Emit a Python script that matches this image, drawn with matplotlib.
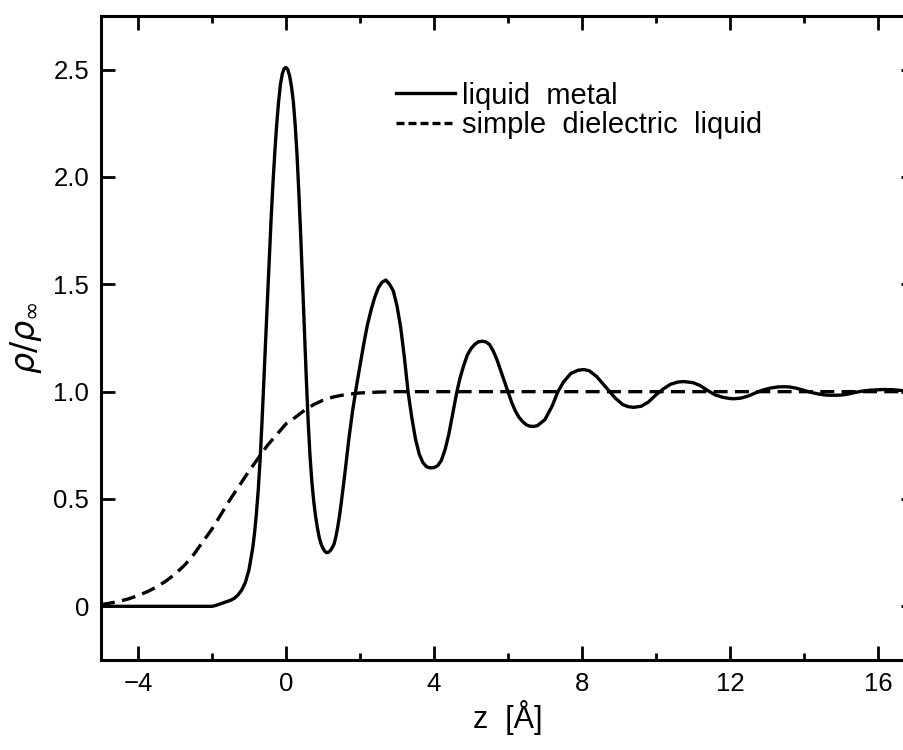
import matplotlib
matplotlib.use("Agg")
import matplotlib.pyplot as plt
from matplotlib.lines import Line2D
from matplotlib.ticker import MultipleLocator

plt.rcParams['font.family'] = ['Liberation Sans', 'DejaVu Sans']
plt.rcParams['mathtext.fontset'] = 'dejavusans'

# liquid metal density profile
z_metal = [-5.0, -2.0, -1.9, -1.8, -1.7, -1.6, -1.5, -1.4, -1.3, -1.2, -1.1, -1.0,
           -0.9, -0.85, -0.8, -0.75, -0.7, -0.65, -0.6, -0.55, -0.5, -0.45, -0.4, -0.35,
           -0.3, -0.25, -0.2, -0.15, -0.1, -0.05, 0.0,
           0.05, 0.1, 0.15, 0.2, 0.25, 0.3, 0.35, 0.4, 0.45, 0.5, 0.55, 0.6, 0.65,
           0.7, 0.75, 0.8, 0.85, 0.9, 0.95, 1.0, 1.05, 1.1, 1.15, 1.2, 1.25,
           1.3, 1.35, 1.4, 1.45, 1.5, 1.6, 1.7, 1.8, 1.9, 2.0, 2.1, 2.2, 2.3, 2.4, 2.5, 2.6, 2.7,
           2.8, 2.9, 3.0, 3.1, 3.2, 3.3, 3.4, 3.5, 3.6, 3.7, 3.8, 3.9, 4.0,
           4.1, 4.2, 4.3, 4.4, 4.5, 4.62, 4.7, 4.8, 4.9, 5.0, 5.1, 5.2, 5.3,
           5.4, 5.5, 5.6, 5.7, 5.8, 5.9, 6.0, 6.1, 6.2, 6.3, 6.4, 6.5, 6.6, 6.7,
           6.8, 7.0, 7.2, 7.35, 7.5, 7.7, 7.9, 8.05,
           8.2, 8.4, 8.6, 8.75, 8.9, 9.1, 9.25, 9.4,
           9.6, 9.8, 10.0, 10.2, 10.4, 10.6, 10.75,
           11.0, 11.2, 11.4, 11.6, 11.8, 12.0, 12.1,
           12.3, 12.5, 12.7, 12.9, 13.1, 13.3, 13.45,
           13.6, 13.8, 14.0, 14.2, 14.4, 14.6, 14.8,
           15.0, 15.2, 15.4, 15.6, 15.8, 16.0, 16.15,
           16.4, 16.6, 16.8, 17.0]
rho_metal = [0.0, 0.0, 0.004, 0.01, 0.016, 0.022, 0.028, 0.037, 0.052, 0.075, 0.11, 0.17,
             0.27, 0.34, 0.43, 0.54, 0.68, 0.85, 1.04, 1.235, 1.43, 1.625, 1.81, 1.975,
             2.12, 2.245, 2.35, 2.43, 2.48, 2.505, 2.51,
             2.50, 2.47, 2.42, 2.35, 2.24, 2.10, 1.92, 1.72, 1.50, 1.28, 1.06, 0.86, 0.70,
             0.58, 0.49, 0.42, 0.365, 0.32, 0.29, 0.27, 0.256, 0.25, 0.252, 0.26, 0.273,
             0.29, 0.325, 0.37, 0.425, 0.49, 0.63, 0.78, 0.91, 1.02, 1.12, 1.22, 1.31, 1.38, 1.44, 1.485, 1.51, 1.52,
             1.50, 1.47, 1.40, 1.30, 1.16, 1.00, 0.88, 0.78, 0.71, 0.67, 0.65, 0.645, 0.646,
             0.655, 0.68, 0.73, 0.80, 0.89, 1.00, 1.06, 1.12, 1.17, 1.20, 1.22, 1.232, 1.235,
             1.232, 1.22, 1.19, 1.15, 1.10, 1.05, 1.00, 0.95, 0.91, 0.88, 0.86, 0.845, 0.839, 0.838,
             0.842, 0.87, 0.935, 1.00, 1.045, 1.085, 1.10, 1.103,
             1.097, 1.07, 1.03, 1.00, 0.97, 0.94, 0.93, 0.927,
             0.932, 0.952, 0.985, 1.013, 1.035, 1.045, 1.047,
             1.042, 1.028, 1.005, 0.985, 0.974, 0.968, 0.967,
             0.970, 0.980, 0.995, 1.008, 1.017, 1.022, 1.023,
             1.022, 1.016, 1.006, 0.996, 0.989, 0.984, 0.983,
             0.984, 0.989, 0.997, 1.003, 1.007, 1.009, 1.010,
             1.009, 1.006, 1.002, 0.998]

# simple dielectric liquid density profile
z_diel = [-5.0, -4.75, -4.5, -4.25, -4.0, -3.75, -3.5, -3.25, -3.0, -2.75, -2.5, -2.25,
          -2.0, -1.75, -1.5, -1.25, -1.0, -0.75, -0.5, -0.25, 0.0, 0.25, 0.5, 0.75,
          1.0, 1.25, 1.5, 1.75, 2.0, 2.5, 3.0, 17.0]
rho_diel = [0.008, 0.015, 0.024, 0.035, 0.05, 0.068, 0.09, 0.117, 0.15, 0.19, 0.24, 0.30,
            0.36, 0.43, 0.50, 0.565, 0.63, 0.69, 0.75, 0.80, 0.85, 0.88, 0.913, 0.94,
            0.96, 0.974, 0.983, 0.989, 0.994, 0.998, 1.0, 1.0]

labels = ['liquid  metal', 'simple  dielectric  liquid']
xticks = [-4, 0, 4, 8, 12, 16]
yticks = [0, 0.5, 1.0, 1.5, 2.0, 2.5]
yticklabels = ['0', '0.5', '1.0', '1.5', '2.0', '2.5']

fig = plt.figure(figsize=(9.04, 7.5), dpi=100)
ax = fig.add_axes([0.1117, 0.12, 0.9004, 0.8587])

lw = 2.4
ax.plot(z_metal, rho_metal, color='black', lw=lw, solid_joinstyle='round')
ax.plot(z_diel, rho_diel, color='black', lw=lw, linestyle=(0, (4.2, 2.2)))

ax.set_xlim(-5, 17)
ax.set_ylim(-0.25, 2.75)
ax.set_xticks(xticks)
ax.xaxis.set_minor_locator(MultipleLocator(2))
ax.set_yticks(yticks)
ax.set_yticklabels(yticklabels)

for s in ax.spines.values():
    s.set_linewidth(2.2)

ax.tick_params(which='both', direction='in', top=True, right=True, width=2.0,
               labelsize=18.5)
ax.tick_params(which='major', length=10, pad=8.5)
ax.tick_params(which='minor', length=5)

ax.set_xlabel('z  [Å]', fontsize=22, labelpad=3)
ax.set_ylabel(r'$\rho/\rho_{\infty}$', fontsize=24, labelpad=7)

handles = [Line2D([], [], color='black', lw=lw),
           Line2D([], [], color='black', lw=lw, linestyle=(0, (2.4, 1.2)))]
ax.legend(handles, labels, loc='upper left', bbox_to_anchor=(0.363, 0.898),
          frameon=False, fontsize=21, handlelength=2.0, handletextpad=0.25,
          borderpad=0, borderaxespad=0, labelspacing=0.05)

fig.savefig('out.png', dpi=100)
